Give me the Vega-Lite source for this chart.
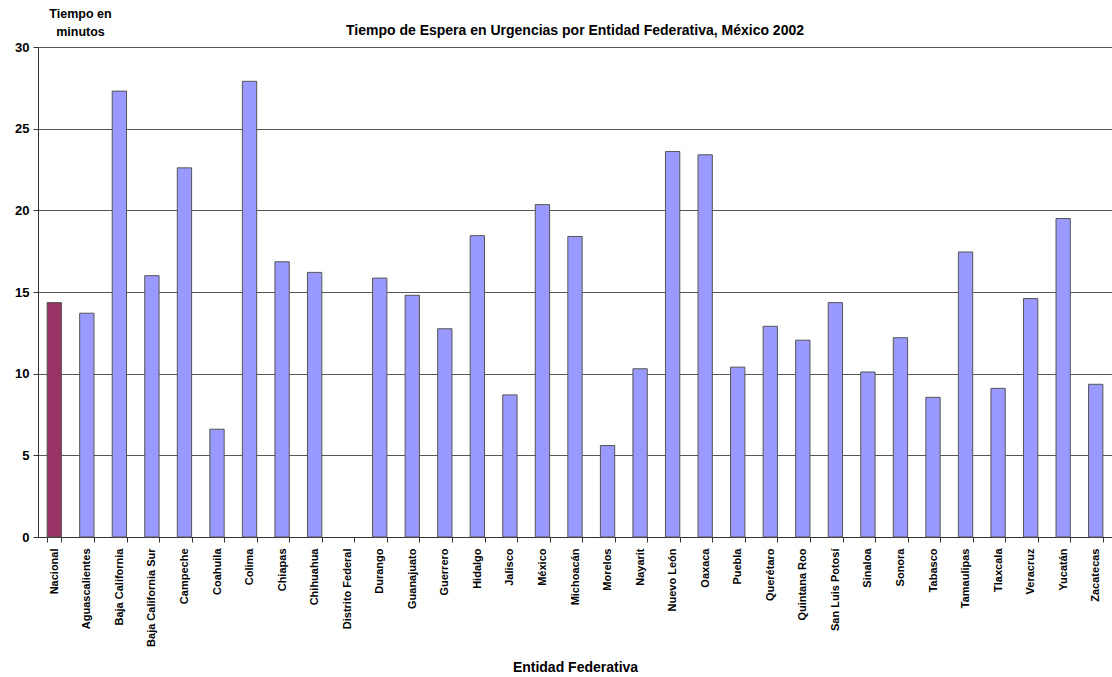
{
  "$schema": "https://vega.github.io/schema/vega-lite/v6.json",
  "autosize": "none",
  "width": 1074,
  "height": 490,
  "padding": {"left": 38, "top": 47, "right": 0, "bottom": 140},
  "background": "white",
  "config": {"font": "Liberation Sans", "view": {"stroke": null}},
  "title": {
    "text": "Tiempo de Espera en Urgencias por Entidad Federativa, México 2002",
    "fontSize": 14, "fontWeight": "bold", "font": "Liberation Sans", "color": "black",
    "anchor": "middle", "offset": 0, "dy": 31
  },
  "data": {"values": [
    {"entidad": "Nacional", "minutos": 14.35, "tipo": "nacional"},
    {"entidad": "Aguascalientes", "minutos": 13.7, "tipo": "estado"},
    {"entidad": "Baja California", "minutos": 27.3, "tipo": "estado"},
    {"entidad": "Baja California Sur", "minutos": 16.0, "tipo": "estado"},
    {"entidad": "Campeche", "minutos": 22.6, "tipo": "estado"},
    {"entidad": "Coahuila", "minutos": 6.6, "tipo": "estado"},
    {"entidad": "Colima", "minutos": 27.9, "tipo": "estado"},
    {"entidad": "Chiapas", "minutos": 16.85, "tipo": "estado"},
    {"entidad": "Chihuahua", "minutos": 16.2, "tipo": "estado"},
    {"entidad": "Distrito Federal", "minutos": 0, "tipo": "estado"},
    {"entidad": "Durango", "minutos": 15.85, "tipo": "estado"},
    {"entidad": "Guanajuato", "minutos": 14.8, "tipo": "estado"},
    {"entidad": "Guerrero", "minutos": 12.75, "tipo": "estado"},
    {"entidad": "Hidalgo", "minutos": 18.45, "tipo": "estado"},
    {"entidad": "Jalisco", "minutos": 8.7, "tipo": "estado"},
    {"entidad": "México", "minutos": 20.35, "tipo": "estado"},
    {"entidad": "Michoacán", "minutos": 18.4, "tipo": "estado"},
    {"entidad": "Morelos", "minutos": 5.6, "tipo": "estado"},
    {"entidad": "Nayarit", "minutos": 10.3, "tipo": "estado"},
    {"entidad": "Nuevo León", "minutos": 23.6, "tipo": "estado"},
    {"entidad": "Oaxaca", "minutos": 23.4, "tipo": "estado"},
    {"entidad": "Puebla", "minutos": 10.4, "tipo": "estado"},
    {"entidad": "Querétaro", "minutos": 12.9, "tipo": "estado"},
    {"entidad": "Quintana Roo", "minutos": 12.05, "tipo": "estado"},
    {"entidad": "San Luis Potosí", "minutos": 14.35, "tipo": "estado"},
    {"entidad": "Sinaloa", "minutos": 10.1, "tipo": "estado"},
    {"entidad": "Sonora", "minutos": 12.2, "tipo": "estado"},
    {"entidad": "Tabasco", "minutos": 8.55, "tipo": "estado"},
    {"entidad": "Tamaulipas", "minutos": 17.45, "tipo": "estado"},
    {"entidad": "Tlaxcala", "minutos": 9.1, "tipo": "estado"},
    {"entidad": "Veracruz", "minutos": 14.6, "tipo": "estado"},
    {"entidad": "Yucatán", "minutos": 19.5, "tipo": "estado"},
    {"entidad": "Zacatecas", "minutos": 9.35, "tipo": "estado"}
  ]},
  "mark": {"type": "bar", "stroke": "#555555", "strokeWidth": 1},
  "encoding": {
    "x": {
      "field": "entidad", "type": "nominal", "sort": null,
      "scale": {"paddingInner": 0.56, "paddingOuter": 0.28},
      "axis": {
        "title": "Entidad Federativa", "titleFontSize": 14, "titleFontWeight": "bold", "titleColor": "black",
        "titlePadding": 14,
        "labelAngle": -90, "labelFontSize": 11, "labelFontWeight": "bold", "labelColor": "black",
        "labelPadding": 6, "labelAlign": "right", "labelBaseline": "middle",
        "tickBand": "extent", "tickColor": "#333", "tickSize": 5,
        "domainColor": "#333", "grid": false
      }
    },
    "y": {
      "field": "minutos", "type": "quantitative",
      "scale": {"domain": [0, 30], "nice": false},
      "axis": {
        "values": [0, 5, 10, 15, 20, 25, 30],
        "title": ["Tiempo en", "minutos"], "titleAngle": 0, "titleAlign": "center",
        "titleBaseline": "top", "titleX": 42, "titleY": -40, "titleFontSize": 12.5,
        "titleFontWeight": "bold", "titleColor": "black", "titleLineHeight": 18,
        "labelFontSize": 13, "labelFontWeight": "bold", "labelColor": "black", "labelPadding": 4,
        "tickColor": "#333", "tickSize": 5, "domainColor": "#333",
        "grid": true, "gridColor": "#444", "gridOpacity": 0.9, "gridWidth": 1
      }
    },
    "color": {
      "field": "tipo", "type": "nominal",
      "scale": {"domain": ["nacional", "estado"], "range": ["#993366", "#9999FF"]},
      "legend": null
    },
    "strokeOpacity": {
      "condition": {"test": "datum.minutos > 0", "value": 1},
      "value": 0
    }
  }
}
